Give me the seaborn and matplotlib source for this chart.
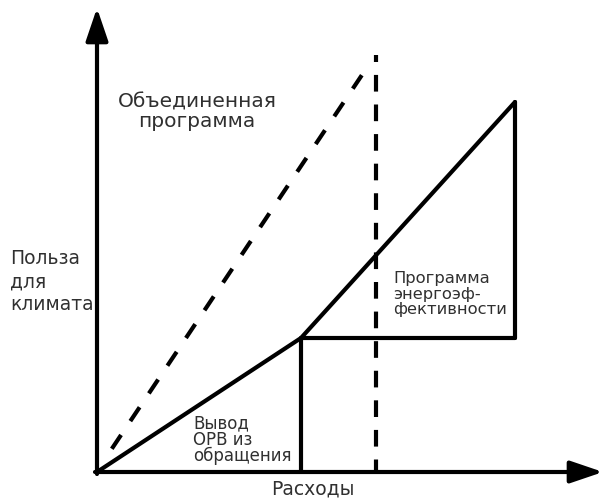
import matplotlib
matplotlib.use("Agg")
import matplotlib.pyplot as plt
import seaborn as sns

# Расходы / польза: ломаная для двух программ
path_x = [0.0, 5.1, 10.45]
path_y = [0.0, 3.35, 9.25]

# границы вкладов программ
ods_x = [5.1, 5.1]
ods_y = [0.0, 3.35]
ee_base_x = [5.1, 10.45]
ee_base_y = [3.35, 3.35]
ee_side_x = [10.45, 10.45]
ee_side_y = [3.35, 9.25]

# объединенная программа (пунктир)
combined_x = [0.37, 6.62]
combined_y = [0.58, 9.92]
budget_x = [6.97, 6.97]
budget_y = [0.0, 10.43]

x_max = 12.65
y_max = 11.6

text_color = "#303030"


def seg(ax, xs, ys, ls="-"):
    sns.lineplot(x=xs, y=ys, ax=ax, color="black", lw=3.0, sort=False,
                 estimator=None, linestyle=ls, clip_on=False)


def main():
    sns.set_style("white")
    plt.rcParams["font.family"] = ["DejaVu Sans"]

    fig = plt.figure(figsize=(6.06, 5.0), dpi=100)
    ax = fig.add_axes([97 / 606, 28 / 500, (603 - 97) / 606, 464 / 500])
    ax.set_xlim(0, x_max)
    ax.set_ylim(0, y_max)
    ax.axis("off")

    seg(ax, path_x, path_y)
    seg(ax, ods_x, ods_y)
    seg(ax, ee_base_x, ee_base_y)
    seg(ax, ee_side_x, ee_side_y)
    seg(ax, combined_x, combined_y, ls=(0, (4.0, 4.0)))
    seg(ax, budget_x, budget_y, ls=(1.0, (4.0, 3.1)))

    # оси со стрелками
    arrow = dict(arrowstyle="-|>,head_length=1.0,head_width=0.34",
                 lw=3.0, color="black", shrinkA=0, shrinkB=0,
                 mutation_scale=20)
    ax.annotate("", xy=(x_max, 0), xytext=(-0.05, 0), arrowprops=arrow,
                annotation_clip=False)
    ax.annotate("", xy=(0, y_max), xytext=(0, -0.05), arrowprops=arrow,
                annotation_clip=False)

    ax.text(2.5, 9.0, "Объединенная\nпрограмма", ha="center", va="center",
            multialignment="center", fontsize=14.5, linespacing=1.0,
            color=text_color)
    ax.text(-2.175, 4.76, "Польза\nдля\nклимата", ha="left", va="center",
            fontsize=13.5, linespacing=1.25, color=text_color, clip_on=False)
    ax.text(5.4, -0.43, "Расходы", ha="center", va="center", fontsize=13.5,
            color=text_color, clip_on=False)
    ax.text(7.4, 4.45, "Программа\nэнергоэф-\nфективности", ha="left",
            va="center", fontsize=11.8, linespacing=1.05, color=text_color)
    ax.text(2.4, 0.8, "Вывод\nОРВ из\nобращения", ha="left", va="center",
            fontsize=12, linespacing=0.88, color=text_color)

    fig.savefig("out.png", dpi=100)


if __name__ == "__main__":
    main()
